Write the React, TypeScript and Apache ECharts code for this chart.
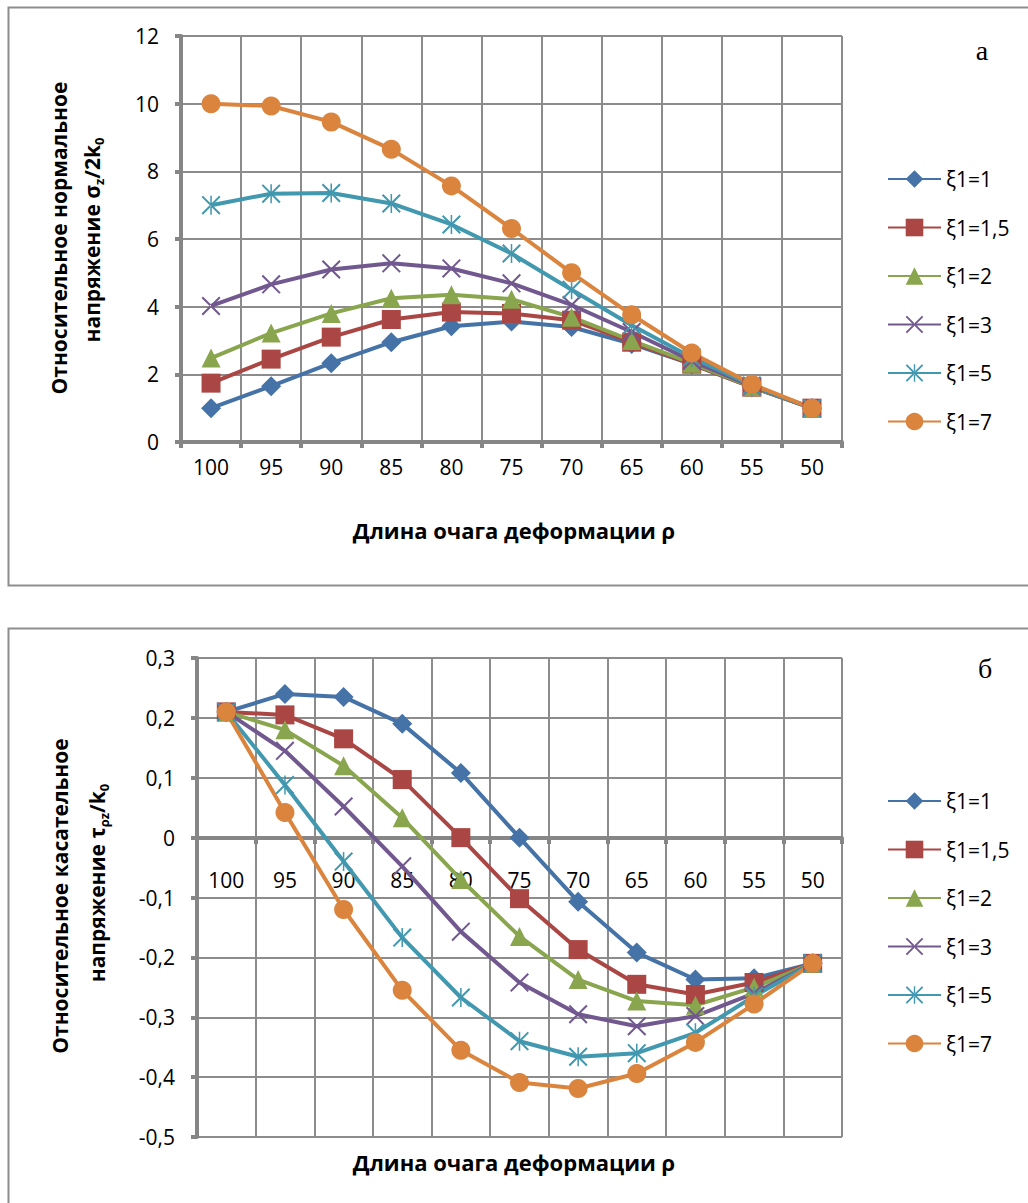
import React, { useEffect, useRef } from "react";
import * as echarts from "echarts";

const categories = ["100", "95", "90", "85", "80", "75", "70", "65", "60", "55", "50"];
const seriesNames = ["ξ1=1", "ξ1=1,5", "ξ1=2", "ξ1=3", "ξ1=5", "ξ1=7"];

const sigma1 = [1.0, 1.65, 2.33, 2.95, 3.42, 3.56, 3.4, 2.9, 2.3, 1.62, 1.0];
const sigma15 = [1.74, 2.45, 3.1, 3.62, 3.84, 3.8, 3.6, 2.95, 2.3, 1.62, 1.0];
const sigma2 = [2.48, 3.22, 3.8, 4.25, 4.35, 4.22, 3.69, 3.0, 2.33, 1.63, 1.0];
const sigma3 = [4.02, 4.66, 5.1, 5.28, 5.13, 4.69, 4.05, 3.25, 2.4, 1.65, 1.0];
const sigma5 = [7.0, 7.34, 7.36, 7.05, 6.43, 5.57, 4.5, 3.45, 2.5, 1.67, 1.0];
const sigma7 = [10.0, 9.93, 9.46, 8.65, 7.57, 6.31, 5.0, 3.76, 2.63, 1.71, 1.0];

const tau1 = [0.21, 0.24, 0.235, 0.19, 0.108, 0.0, -0.107, -0.192, -0.237, -0.235, -0.21];
const tau15 = [0.21, 0.205, 0.165, 0.097, 0.0, -0.102, -0.187, -0.245, -0.262, -0.242, -0.21];
const tau2 = [0.21, 0.18, 0.12, 0.033, -0.07, -0.165, -0.237, -0.273, -0.28, -0.25, -0.21];
const tau3 = [0.21, 0.145, 0.052, -0.048, -0.157, -0.242, -0.295, -0.315, -0.298, -0.26, -0.21];
const tau5 = [0.21, 0.088, -0.04, -0.167, -0.267, -0.34, -0.366, -0.36, -0.326, -0.265, -0.21];
const tau7 = [0.21, 0.042, -0.12, -0.255, -0.355, -0.409, -0.419, -0.394, -0.342, -0.278, -0.21];

const sigmaTicks = { min: 0, max: 12, interval: 2 };
const tauTicks = { min: -0.5, max: 0.3, interval: 0.1 };

const colors = ["#4572A7", "#AA4643", "#89A54E", "#71588F", "#4198AF", "#DB843D"];

const X_PATH =
  "path://M0,1.5 L1.5,0 L20,18.5 L18.5,20 Z M20,1.5 L18.5,0 L0,18.5 L1.5,20 Z";
const STAR_PATH =
  "path://M0,1.5 L1.5,0 L20,18.5 L18.5,20 Z M20,1.5 L18.5,0 L0,18.5 L1.5,20 Z M9.2,0 L10.8,0 L10.8,20 L9.2,20 Z";
const symbols = ["diamond", "rect", "triangle", X_PATH, STAR_PATH, "circle"];

const FONT = "Open Sans";
const GRID_COLOR = "#8c8c8c";
const AXIS_COLOR = "#868686";

export default function App() {
  const ref = useRef<HTMLDivElement>(null);

  useEffect(() => {
    if (!ref.current) return;
    const chart = echarts.init(ref.current, null, { renderer: "svg" });

    const sigmaData = [sigma1, sigma15, sigma2, sigma3, sigma5, sigma7];
    const tauData = [tau1, tau15, tau2, tau3, tau5, tau7];

    const makeSeries = (data: number[][], idx: number) =>
      data.map((d, i) => ({
        type: "line",
        name: seriesNames[i],
        xAxisIndex: idx,
        yAxisIndex: idx,
        data: d,
        symbol: symbols[i],
        symbolSize: i === 0 ? 20 : 19,
        showAllSymbol: true,
        lineStyle: { color: colors[i], width: 4 },
        itemStyle: { color: colors[i] },
        emphasis: { disabled: true },
      }));

    const catAxis = (gridIndex: number, margin: number, offset: number) => ({
      type: "category",
      gridIndex,
      data: categories,
      boundaryGap: true,
      position: "bottom",
      offset,
      axisLine: { show: true, onZero: false, lineStyle: { color: AXIS_COLOR, width: 4 } },
      axisTick: { show: true, length: 6, lineStyle: { color: AXIS_COLOR, width: 4 } },
      axisLabel: { color: "#000", fontFamily: FONT, fontSize: 21, margin },
      splitLine: { show: true, lineStyle: { color: GRID_COLOR, width: 2 } },
    });

    const valAxis = (gridIndex: number, t: any, margin: number, fmt: (v: number) => string) => ({
      type: "value",
      gridIndex,
      min: t.min,
      max: t.max,
      interval: t.interval,
      axisLine: { show: true, onZero: false, lineStyle: { color: AXIS_COLOR, width: 4 } },
      axisTick: { show: true, length: 6, lineStyle: { color: AXIS_COLOR, width: 4 } },
      axisLabel: { color: "#000", fontFamily: FONT, fontSize: 21, margin, formatter: fmt },
      splitLine: { show: true, lineStyle: { color: GRID_COLOR, width: 2 } },
    });

    const legend = (top: number) => ({
      orient: "vertical",
      left: 882,
      top,
      itemWidth: 53,
      itemHeight: 22,
      itemGap: 26.5,
      data: seriesNames,
      selectedMode: false,
      textStyle: { fontFamily: FONT, fontSize: 21, color: "#000", lineHeight: 22 },
    });

    const boldTitle = { fontFamily: FONT, fontSize: 22, fontWeight: "bold", fill: "#000" };
    const rich = {
      b: { fontFamily: FONT, fontSize: 21, fontWeight: "bold", lineHeight: 26 },
      s: { fontFamily: FONT, fontSize: 13, fontWeight: "bold", lineHeight: 14, verticalAlign: "bottom" },
    };
    const yTitle = { fontFamily: FONT, fontSize: 21, fontWeight: "bold", fill: "#000" };

    // grid 1 plot: y from 658 (0.3) to 1137 (-0.5); zero line at 838 -> offset up by 299
    const tauZeroOffset = -(1137 - 838);

    chart.setOption({
      animation: false,
      grid: [
        { left: 181, right: 186, top: 36, bottom: 1203 - 442, containLabel: false },
        { left: 197, right: 186, top: 658, bottom: 1203 - 1137, containLabel: false },
      ],
      xAxis: [catAxis(0, 14, 0), catAxis(1, 31, tauZeroOffset)],
      yAxis: [
        valAxis(0, sigmaTicks, 22, (v: number) => String(v)),
        valAxis(1, tauTicks, 22, (v: number) =>
          Math.abs(v) < 1e-9 ? "0" : v.toFixed(1).replace(".", ",")
        ),
      ],
      legend: [legend(163), legend(785)],
      series: [...makeSeries(sigmaData, 0), ...makeSeries(tauData, 1)],
      graphic: [
        {
          type: "rect",
          shape: { x: 8.5, y: 7.5, width: 1100, height: 578 },
          style: { fill: "none", stroke: "#8e8e8e", lineWidth: 2 },
          silent: true,
        },
        {
          type: "rect",
          shape: { x: 8.5, y: 628.5, width: 1100, height: 600 },
          style: { fill: "none", stroke: "#8e8e8e", lineWidth: 2 },
          silent: true,
        },
        {
          type: "text",
          x: 982,
          y: 50,
          style: {
            text: "а",
            fontFamily: "Liberation Serif",
            fontSize: 28,
            fill: "#000",
            align: "center",
            verticalAlign: "middle",
          },
        },
        {
          type: "text",
          x: 985,
          y: 668,
          style: {
            text: "б",
            fontFamily: "Liberation Serif",
            fontSize: 28,
            fill: "#000",
            align: "center",
            verticalAlign: "middle",
          },
        },
        {
          type: "text",
          x: 514,
          y: 530,
          style: { ...boldTitle, text: "Длина очага деформации ρ", align: "center", verticalAlign: "middle" },
        },
        {
          type: "text",
          x: 514,
          y: 1162,
          style: { ...boldTitle, text: "Длина очага деформации ρ", align: "center", verticalAlign: "middle" },
        },
        {
          type: "text",
          x: 59,
          y: 238,
          rotation: Math.PI / 2,
          style: { ...yTitle, text: "Относительное нормальное", align: "center", verticalAlign: "middle" },
        },
        {
          type: "text",
          x: 92,
          y: 240,
          rotation: Math.PI / 2,
          style: {
            text: "{b|напряжение σ}{s|z}{b|/2k}{s|0}",
            rich,
            fill: "#000",
            align: "center",
            verticalAlign: "middle",
          },
        },
        {
          type: "text",
          x: 60,
          y: 896,
          rotation: Math.PI / 2,
          style: { ...yTitle, text: "Относительное касательное", align: "center", verticalAlign: "middle" },
        },
        {
          type: "text",
          x: 97,
          y: 883,
          rotation: Math.PI / 2,
          style: {
            text: "{b|напряжение τ}{s|ρz}{b|/k}{s|0}",
            rich,
            fill: "#000",
            align: "center",
            verticalAlign: "middle",
          },
        },
      ],
    });

    return () => chart.dispose();
  }, []);

  return (
    <div
      ref={ref}
      style={{ position: "absolute", left: 0, top: 0, width: 1028, height: 1203, background: "#fff" }}
    />
  );
}
